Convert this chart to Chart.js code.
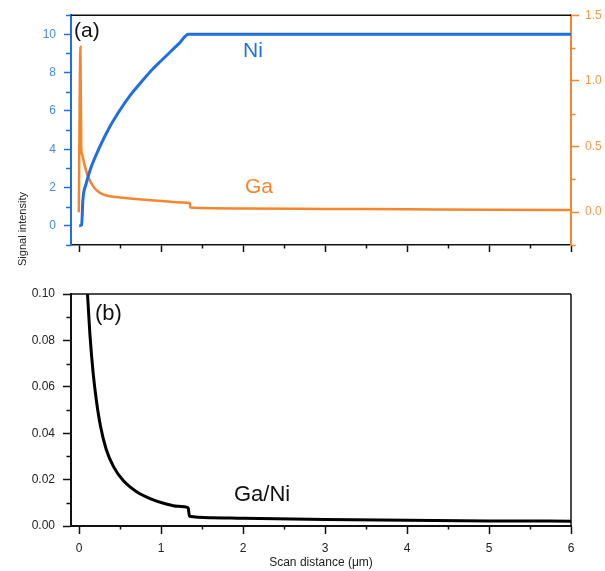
<!DOCTYPE html>
<html>
<head>
<meta charset="utf-8">
<script src="https://cdn.jsdelivr.net/npm/chart.js@4.4.1/dist/chart.umd.min.js"></script>
<style>
  html, body { margin: 0; padding: 0; background: #fff; }
  #wrap { position: relative; width: 605px; height: 571px; font-family: "Liberation Sans", Arial, sans-serif; overflow: hidden; }
  canvas { position: absolute; left: 0; }
  #topChart { top: 0; }
  #bottomChart { top: 262px; }
  .note { position: absolute; line-height: 1; transform: translateY(-50%); white-space: nowrap; }
  #ylabel { position: absolute; left: 22px; top: 229px; font-size: 11px; color: #222;
            transform: translate(-50%, -50%) rotate(-90deg); white-space: nowrap; }
</style>
</head>
<body>
<div id="wrap">
  <canvas id="topChart" width="605" height="262"></canvas>
  <canvas id="bottomChart" width="605" height="309"></canvas>
  <div id="ylabel">Signal intensity</div>
  <div class="note" style="left:74px;top:29px;font-size:21px;color:#111">(a)</div>
  <div class="note" style="left:243px;top:49px;font-size:21px;color:#1f6fdc">Ni</div>
  <div class="note" style="left:245px;top:185px;font-size:21px;color:#f5862b">Ga</div>
  <div class="note" style="left:95px;top:313px;font-size:22px;color:#111">(b)</div>
  <div class="note" style="left:234px;top:494px;font-size:22px;color:#111">Ga/Ni</div>
</div>
<script>
// Values (scan distance in µm).
const niX = [0, 0.03, 0.045, 0.085, 0.146, 0.248, 0.37, 0.49, 0.62, 0.74, 0.866, 1.0, 1.11, 1.22, 1.333, 2, 3, 4, 5, 6];
const niY = [0, 0.05, 1.35, 2.2, 3.07, 4.1, 5.15, 6.0, 6.8, 7.42, 8.05, 8.62, 9.08, 9.53, 10.0, 10.0, 10.0, 10.0, 10.0, 10.0];

const gaX = [-0.005, 0.015, 0.025, 0.035, 0.065, 0.106, 0.167, 0.22, 0.289, 0.45, 0.62, 0.8, 1.0, 1.27, 1.35, 1.355, 2.0, 3.0, 4.0, 5.0, 6.0];
const gaY = [0.0, 1.26, 0.49, 0.44, 0.36, 0.275, 0.2, 0.163, 0.136, 0.115, 0.105, 0.095, 0.085, 0.073, 0.07, 0.035, 0.028, 0.025, 0.022, 0.019, 0.017];

const ratioX = [0.095, 0.13, 0.17, 0.21, 0.26, 0.33, 0.42, 0.54, 0.7, 0.88, 1.05, 1.2, 1.33, 1.345, 1.6, 2, 3, 4, 5, 6];
const ratioY = [0.104, 0.083, 0.066, 0.054, 0.043, 0.033, 0.0255, 0.0195, 0.0148, 0.0116, 0.0096, 0.0085, 0.0078, 0.0042, 0.0036, 0.0033, 0.0028, 0.0025, 0.0022, 0.0021];

const xMajor = [0, 1, 2, 3, 4, 5, 6];
const xMinor = [0.5, 1.5, 2.5, 3.5, 4.5, 5.5];
const niMajor = [0, 2, 4, 6, 8, 10];
const niMinor = [-1, 1, 3, 5, 7, 9, 11];
const gaMajor = [0, 0.5, 1.0, 1.5];
const gaMinor = [-0.25, 0.25, 0.75, 1.25];
const ratioMajor = [0, 0.02, 0.04, 0.06, 0.08, 0.1];
const ratioMinor = [0.01, 0.03, 0.05, 0.07, 0.09];

const BLUE = "#1f6fdc";
const ORANGE = "#f5862b";
const FONT = "'Liberation Sans', Arial, sans-serif";

const toPoints = (xs, ys) => xs.map((x, i) => ({ x, y: ys[i] }));
const fixTicks = (values) => (scale) => { scale.ticks = values.map((v) => ({ value: v })); };

// Minor tick marks (shorter than the major ones) plus the frame lines that
// Chart.js has no axis for (top edge, right edge of the lower panel).
function axisDecor(minor, frame) {
  return {
    id: "axisDecor",
    afterDraw(chart) {
      const ctx = chart.ctx;
      const area = chart.chartArea;
      ctx.save();
      for (const m of minor) {
        const scale = chart.scales[m.scale];
        ctx.strokeStyle = m.color;
        ctx.lineWidth = m.width;
        ctx.beginPath();
        for (const v of m.values) {
          const p = Math.round(scale.getPixelForValue(v)) + 0.5;
          if (scale.isHorizontal()) {
            ctx.moveTo(p, scale.top);
            ctx.lineTo(p, scale.top + m.length);
          } else if (scale.position === "left") {
            ctx.moveTo(scale.right - m.length, p);
            ctx.lineTo(scale.right, p);
          } else {
            ctx.moveTo(scale.left, p);
            ctx.lineTo(scale.left + m.length, p);
          }
        }
        ctx.stroke();
      }
      ctx.strokeStyle = "#111";
      ctx.lineWidth = 1.5;
      ctx.beginPath();
      ctx.moveTo(area.left, area.top);
      ctx.lineTo(area.right, area.top);
      if (frame.right) {
        ctx.moveTo(area.right, area.top);
        ctx.lineTo(area.right, area.bottom);
      }
      ctx.stroke();
      ctx.restore();
    },
  };
}

const lineDefaults = { pointRadius: 0, fill: false, cubicInterpolationMode: "monotone" };

new Chart(document.getElementById("topChart"), {
  type: "line",
  data: {
    datasets: [
      { ...lineDefaults, label: "Ni", data: toPoints(niX, niY), borderColor: BLUE, borderWidth: 3, yAxisID: "yNi" },
      { ...lineDefaults, label: "Ga", data: toPoints(gaX, gaY), borderColor: ORANGE, borderWidth: 2.5, yAxisID: "yGa" },
    ],
  },
  options: {
    responsive: false,
    animation: false,
    layout: { padding: { top: 13, left: 0, right: 0, bottom: 0 } },
    plugins: { legend: { display: false }, tooltip: { enabled: false } },
    scales: {
      x: {
        type: "linear", min: -0.1, max: 6,
        afterBuildTicks: fixTicks(xMajor),
        afterFit: (s) => { s.height = 17; },
        ticks: { display: false },
        grid: { drawOnChartArea: false, tickLength: 7, tickColor: "#111", tickWidth: 1.5 },
        border: { color: "#111", width: 1.5 },
      },
      yNi: {
        position: "left", min: -1, max: 11,
        afterBuildTicks: fixTicks(niMajor),
        afterFit: (s) => { s.width = 71; },
        ticks: { color: "#4a8ae0", font: { family: FONT, size: 12 }, padding: 8, callback: (v) => String(v) },
        grid: { drawOnChartArea: false, tickLength: 7, tickColor: BLUE, tickWidth: 1.5 },
        border: { color: BLUE, width: 2 },
      },
      yGa: {
        position: "right", min: -0.25, max: 1.5,
        afterBuildTicks: fixTicks(gaMajor),
        afterFit: (s) => { s.width = 34; },
        ticks: { color: "#f29a4e", font: { family: FONT, size: 12 }, padding: 6, callback: (v) => v.toFixed(1) },
        grid: { drawOnChartArea: false, tickLength: 8, tickColor: ORANGE, tickWidth: 1.5 },
        border: { color: ORANGE, width: 2 },
      },
    },
  },
  plugins: [axisDecor([
    { scale: "x", values: xMinor, length: 3.5, color: "#111", width: 1.5 },
    { scale: "yNi", values: niMinor, length: 5, color: BLUE, width: 1.5 },
    { scale: "yGa", values: gaMinor, length: 4.5, color: ORANGE, width: 1.5 },
  ], { right: false })],
});

new Chart(document.getElementById("bottomChart"), {
  type: "line",
  data: {
    datasets: [
      { ...lineDefaults, label: "Ga/Ni", data: toPoints(ratioX, ratioY), borderColor: "#000", borderWidth: 3 },
    ],
  },
  options: {
    responsive: false,
    animation: false,
    layout: { padding: { top: 32, left: 0, right: 34, bottom: 0 } },
    plugins: { legend: { display: false }, tooltip: { enabled: false } },
    scales: {
      x: {
        type: "linear", min: -0.1, max: 6,
        afterBuildTicks: fixTicks(xMajor),
        afterFit: (s) => { s.height = 45; },
        ticks: { color: "#222", font: { family: FONT, size: 12 }, padding: 7, maxRotation: 0, callback: (v) => String(v) },
        grid: { drawOnChartArea: false, tickLength: 8, tickColor: "#111", tickWidth: 1.5 },
        border: { color: "#111", width: 2 },
        title: { display: true, text: "Scan distance (μm)", color: "#222", font: { family: FONT, size: 12 }, padding: { top: 0, bottom: 1 } },
      },
      y: {
        position: "left", min: 0, max: 0.1,
        afterBuildTicks: fixTicks(ratioMajor),
        afterFit: (s) => { s.width = 71; },
        ticks: { color: "#222", font: { family: FONT, size: 12 }, padding: 8, callback: (v) => v.toFixed(2) },
        grid: { drawOnChartArea: false, tickLength: 8, tickColor: "#111", tickWidth: 1.5 },
        border: { color: "#111", width: 2 },
      },
    },
  },
  plugins: [axisDecor([
    { scale: "x", values: xMinor, length: 3.5, color: "#111", width: 1.5 },
    { scale: "y", values: ratioMinor, length: 4.5, color: "#111", width: 1.5 },
  ], { right: true })],
});
</script>
</body>
</html>
